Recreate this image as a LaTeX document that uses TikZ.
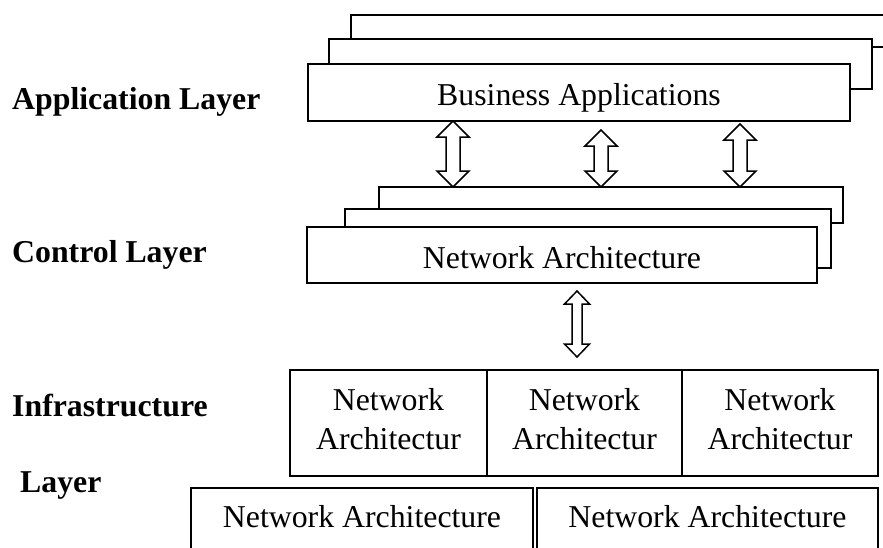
\documentclass[tikz,border=0pt]{standalone}
\usepackage{fontspec}
\setmainfont{Liberation Serif}
\usetikzlibrary{calc}

% hollow two-headed vertical arrow between two named points
% #1 top point, #2 bottom point, #3 head half width, #4 shaft half width, #5 head length
\newcommand\dblarrow[5]{%
  \draw[hollow] let \p1=(#1), \p2=(#2) in
    (\x1,\y1) -- (\x1+#3pt,\y1-#5pt) -- (\x1+#4pt,\y1-#5pt) -- (\x1+#4pt,\y2+#5pt)
    -- (\x1+#3pt,\y2+#5pt) -- (\x1,\y2) -- (\x1-#3pt,\y2+#5pt) -- (\x1-#4pt,\y2+#5pt)
    -- (\x1-#4pt,\y1-#5pt) -- (\x1-#3pt,\y1-#5pt) -- cycle;}

\begin{document}
\begin{tikzpicture}[x=1pt,y=-1pt,
  box/.style={draw, fill=white, line width=1.6pt, inner sep=0pt, outer sep=0pt, anchor=north west},
  txt/.style={inner sep=0pt, anchor=base, font=\fontsize{31.8pt}{39pt}\selectfont},
  ttl/.style={inner sep=0pt, anchor=base west, font=\fontsize{31.8pt}{39pt}\selectfont\bfseries},
  hollow/.style={draw, fill=white, line width=1.5pt, line join=miter}]
\useasboundingbox (0,0) rectangle (883,547);
\clip (0,0) rectangle (883,547);

% layer titles
\node[ttl] (tapp) at (12,109) {Application Layer};
\node[ttl] (tctl) at (12,262) {Control Layer};
\node[ttl] (tinf) at (12,416) {Infrastructure};
\node[ttl] (tlay) at (20,492) {Layer};

% application layer: three stacked sheets
\node[box, minimum width=549pt, minimum height=32pt] (app3) at (351,15) {};
\node[box, minimum width=543pt, minimum height=50pt] (app2) at (329,39) {};
\node[box, minimum width=542pt, minimum height=57pt] (app1) at (308,64) {};
\node[txt] at (579,105) {Business Applications};

% control layer: three stacked sheets
\node[box, minimum width=464pt, minimum height=36pt] (ctl3) at (379,187) {};
\node[box, minimum width=486pt, minimum height=59pt] (ctl2) at (345,209) {};
\node[box, minimum width=510pt, minimum height=56pt] (ctl1) at (307,227) {};
\node[txt] at (562,268) {Network Architecture};

% infrastructure layer, upper row
\node[box, minimum width=197pt, minimum height=106pt] (inf1) at (290,370) {};
\node[box, minimum width=195pt, minimum height=106pt] (inf2) at (487,370) {};
\node[box, minimum width=196pt, minimum height=106pt] (inf3) at (682,370) {};
\foreach \cx in {388.5,584.5,780}{
  \node[txt] at (\cx,410) {Network};
  \node[txt] at (\cx,449) {Architectur};
}

% infrastructure layer, lower row
\node[box, minimum width=342pt, minimum height=82pt] (bot1) at (191,488) {};
\node[box, minimum width=341pt, minimum height=82pt] (bot2) at (537,488) {};
\node[txt] at (362,527) {Network Architecture};
\node[txt] at (707.5,527) {Network Architecture};

% arrow end points
\coordinate (a1s) at (453,0 |- app1.south);
\coordinate (a1e) at (453,0 |- ctl3.north);
\coordinate (a2s) at (601,130);
\coordinate (a2e) at (601,0 |- ctl3.north);
\coordinate (a3s) at (740,124);
\coordinate (a3e) at (740,0 |- ctl3.north);
\coordinate (a4s) at (577,291);
\coordinate (a4e) at (577,357);

\dblarrow{a1s}{a1e}{16}{7}{16}
\dblarrow{a2s}{a2e}{16}{7}{16}
\dblarrow{a3s}{a3e}{16}{7}{16}
\dblarrow{a4s}{a4e}{12.5}{5}{13}
\end{tikzpicture}
\end{document}
